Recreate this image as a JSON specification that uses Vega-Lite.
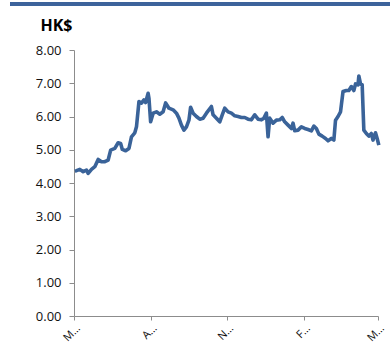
{
  "$schema": "https://vega.github.io/schema/vega-lite/v6.json",
  "width": 304,
  "height": 266,
  "autosize": {"type": "none"},
  "padding": {"left": 74, "top": 50, "right": 12, "bottom": 27},
  "background": "white",
  "config": {
    "view": {"stroke": null},
    "font": "Open Sans",
    "axis": {"domainColor": "#8c8c8c", "tickColor": "#8c8c8c", "grid": false, "labelColor": "#111", "labelFont": "Open Sans", "labelFontSize": 13, "labelOverlap": false}
  },
  "data": {"values": [
    {"date": "2010-05-02", "price": 4.36},
    {"date": "2010-05-04", "price": 4.37},
    {"date": "2010-05-08", "price": 4.41},
    {"date": "2010-05-12", "price": 4.34},
    {"date": "2010-05-16", "price": 4.39},
    {"date": "2010-05-18", "price": 4.29},
    {"date": "2010-05-22", "price": 4.41},
    {"date": "2010-05-26", "price": 4.49},
    {"date": "2010-05-30", "price": 4.71},
    {"date": "2010-06-03", "price": 4.64},
    {"date": "2010-06-07", "price": 4.64},
    {"date": "2010-06-11", "price": 4.69},
    {"date": "2010-06-14", "price": 4.99},
    {"date": "2010-06-19", "price": 5.04},
    {"date": "2010-06-23", "price": 5.21},
    {"date": "2010-06-26", "price": 5.19},
    {"date": "2010-06-28", "price": 5.01},
    {"date": "2010-07-02", "price": 4.97},
    {"date": "2010-07-06", "price": 5.04},
    {"date": "2010-07-09", "price": 5.39},
    {"date": "2010-07-13", "price": 5.51},
    {"date": "2010-07-15", "price": 5.69},
    {"date": "2010-07-18", "price": 6.45},
    {"date": "2010-07-21", "price": 6.40},
    {"date": "2010-07-24", "price": 6.50},
    {"date": "2010-07-26", "price": 6.42},
    {"date": "2010-07-29", "price": 6.70},
    {"date": "2010-07-30", "price": 6.55},
    {"date": "2010-08-01", "price": 5.84},
    {"date": "2010-08-04", "price": 6.10},
    {"date": "2010-08-08", "price": 6.14},
    {"date": "2010-08-12", "price": 6.07},
    {"date": "2010-08-16", "price": 6.14},
    {"date": "2010-08-19", "price": 6.41},
    {"date": "2010-08-23", "price": 6.25},
    {"date": "2010-08-28", "price": 6.20},
    {"date": "2010-09-01", "price": 6.10},
    {"date": "2010-09-04", "price": 5.95},
    {"date": "2010-09-07", "price": 5.74},
    {"date": "2010-09-10", "price": 5.59},
    {"date": "2010-09-13", "price": 5.69},
    {"date": "2010-09-16", "price": 5.89},
    {"date": "2010-09-18", "price": 6.28},
    {"date": "2010-09-21", "price": 6.10},
    {"date": "2010-09-25", "price": 6.00},
    {"date": "2010-09-29", "price": 5.92},
    {"date": "2010-10-03", "price": 5.95},
    {"date": "2010-10-07", "price": 6.10},
    {"date": "2010-10-13", "price": 6.30},
    {"date": "2010-10-15", "price": 6.05},
    {"date": "2010-10-19", "price": 5.95},
    {"date": "2010-10-23", "price": 5.84},
    {"date": "2010-10-26", "price": 6.05},
    {"date": "2010-10-29", "price": 6.25},
    {"date": "2010-11-02", "price": 6.14},
    {"date": "2010-11-06", "price": 6.10},
    {"date": "2010-11-10", "price": 6.02},
    {"date": "2010-11-14", "price": 6.00},
    {"date": "2010-11-18", "price": 5.97},
    {"date": "2010-11-22", "price": 5.97},
    {"date": "2010-11-26", "price": 5.92},
    {"date": "2010-11-30", "price": 5.90},
    {"date": "2010-12-04", "price": 6.05},
    {"date": "2010-12-08", "price": 5.92},
    {"date": "2010-12-12", "price": 5.90},
    {"date": "2010-12-15", "price": 5.95},
    {"date": "2010-12-18", "price": 6.10},
    {"date": "2010-12-20", "price": 5.39},
    {"date": "2010-12-22", "price": 5.95},
    {"date": "2010-12-26", "price": 5.80},
    {"date": "2010-12-30", "price": 5.89},
    {"date": "2011-01-03", "price": 5.90},
    {"date": "2011-01-06", "price": 5.97},
    {"date": "2011-01-09", "price": 5.84},
    {"date": "2011-01-13", "price": 5.74},
    {"date": "2011-01-17", "price": 5.64},
    {"date": "2011-01-19", "price": 5.80},
    {"date": "2011-01-21", "price": 5.57},
    {"date": "2011-01-25", "price": 5.59},
    {"date": "2011-01-29", "price": 5.69},
    {"date": "2011-02-02", "price": 5.64},
    {"date": "2011-02-06", "price": 5.61},
    {"date": "2011-02-10", "price": 5.57},
    {"date": "2011-02-13", "price": 5.71},
    {"date": "2011-02-16", "price": 5.64},
    {"date": "2011-02-19", "price": 5.47},
    {"date": "2011-02-23", "price": 5.41},
    {"date": "2011-02-27", "price": 5.34},
    {"date": "2011-03-02", "price": 5.27},
    {"date": "2011-03-06", "price": 5.34},
    {"date": "2011-03-09", "price": 5.29},
    {"date": "2011-03-11", "price": 5.89},
    {"date": "2011-03-14", "price": 6.00},
    {"date": "2011-03-17", "price": 6.14},
    {"date": "2011-03-20", "price": 6.75},
    {"date": "2011-03-24", "price": 6.78},
    {"date": "2011-03-27", "price": 6.78},
    {"date": "2011-03-30", "price": 6.90},
    {"date": "2011-04-02", "price": 6.78},
    {"date": "2011-04-04", "price": 6.98},
    {"date": "2011-04-07", "price": 6.95},
    {"date": "2011-04-08", "price": 7.22},
    {"date": "2011-04-10", "price": 6.98},
    {"date": "2011-04-12", "price": 6.95},
    {"date": "2011-04-14", "price": 5.59},
    {"date": "2011-04-17", "price": 5.49},
    {"date": "2011-04-20", "price": 5.41},
    {"date": "2011-04-23", "price": 5.49},
    {"date": "2011-04-25", "price": 5.29},
    {"date": "2011-04-28", "price": 5.51},
    {"date": "2011-04-30", "price": 5.34},
    {"date": "2011-05-02", "price": 5.14}
  ]},
  "layer": [
    {
      "mark": {"type": "rule", "color": "#3d639b", "strokeWidth": 3},
      "encoding": {
        "x": {"datum": {"year": 2010, "month": 2, "date": 14, "utc": true}, "type": "temporal"},
        "x2": {"datum": {"year": 2011, "month": 5, "date": 16, "utc": true}},
        "y": {"datum": 9.39, "type": "quantitative",
          "axis": {
            "values": [0, 1, 2, 3, 4, 5, 6, 7, 8],
            "format": ".2f",
            "tickSize": 5,
            "labelPadding": 8,
            "labelOverlap": false,
            "title": "HK$",
            "titleAngle": 0,
            "titleAlign": "left",
            "titleBaseline": "alphabetic",
            "titleX": -34,
            "titleY": -20,
            "titleFontSize": 16,
            "titleFontWeight": "bold",
            "titleColor": "#000"
          }
        }
      }
    },
    {
      "mark": {"type": "line", "color": "#3a6399", "strokeWidth": 3.6, "strokeJoin": "round"},
      "encoding": {
        "x": {
          "field": "date", "type": "temporal",
          "scale": {"type": "utc", "domain": [{"year": 2010, "month": 5, "date": 1, "utc": true}, {"year": 2011, "month": 5, "date": 1, "utc": true}]},
          "axis": {
            "title": null,
            "values": [
              {"year": 2010, "month": 5, "date": 1, "utc": true},
              {"year": 2010, "month": 8, "date": 1, "utc": true},
              {"year": 2010, "month": 11, "date": 1, "utc": true},
              {"year": 2011, "month": 2, "date": 1, "utc": true},
              {"year": 2011, "month": 5, "date": 1, "utc": true}
            ],
            "labelExpr": "substring(utcFormat(datum.value, '%b'), 0, 1) + '…'",
            "labelAngle": -45,
            "labelFontSize": 11,
            "tickSize": 4,
            "labelPadding": 2
          }
        },
        "y": {
          "field": "price", "type": "quantitative",
          "scale": {"domain": [0, 8], "nice": false, "zero": true},
          "axis": {
            "values": [0, 1, 2, 3, 4, 5, 6, 7, 8],
            "format": ".2f",
            "tickSize": 5,
            "labelPadding": 8,
            "labelOverlap": false,
            "title": "HK$",
            "titleAngle": 0,
            "titleAlign": "left",
            "titleBaseline": "alphabetic",
            "titleX": -34,
            "titleY": -20,
            "titleFontSize": 16,
            "titleFontWeight": "bold",
            "titleColor": "#000"
          }
        }
      }
    }
  ]
}
